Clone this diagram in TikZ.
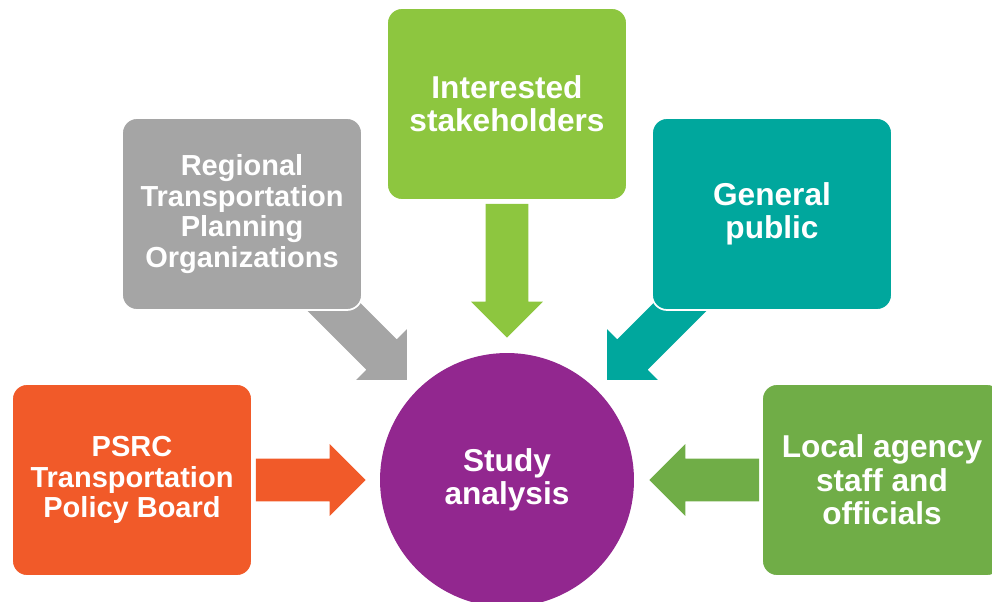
\documentclass[tikz,border=0pt]{standalone}
\usepackage{fontspec}
\setmainfont{Liberation Sans}
\usetikzlibrary{calc,backgrounds}
\definecolor{rpogray}{HTML}{A5A5A5}
\definecolor{stakegreen}{HTML}{8DC63F}
\definecolor{pubteal}{HTML}{00A79D}
\definecolor{psrcorange}{HTML}{F15A29}
\definecolor{localgreen}{HTML}{70AD47}
\definecolor{studypurple}{HTML}{92278F}
\newcommand{\blockarrow}[3]{%
    \path #2 coordinate (ta) #3 coordinate (tb);
    \path ($(tb)!0.72cm!(ta)$) coordinate (tc);
    \fill[#1] ($(ta)!0.43cm!90:(tb)$) -- ($(tc)!0.43cm!-90:(ta)$) -- ($(tc)!0.72cm!-90:(ta)$)
        -- (tb) -- ($(tc)!0.72cm!90:(ta)$) -- ($(tc)!0.43cm!90:(ta)$) -- ($(ta)!0.43cm!-90:(tb)$) -- cycle;}
\begin{document}
\begin{tikzpicture}[x=0.02cm,y=-0.02cm,
        box/.style={rectangle,rounded corners=0.3cm,draw=white,line width=1pt,
            minimum width=4.8cm,minimum height=3.84cm,text=white,align=center,
            font=\bfseries\fontsize{18}{19}\selectfont},
        smalltext/.style={font=\bfseries\fontsize{16.5}{17.5}\selectfont}]
        \clip (0,0) rectangle (992,602);
        \node[box,fill=rpogray,smalltext] (rpo) at (242,214) {Regional\\Transportation\\Planning\\Organizations};
        \node[box,fill=stakegreen] (stake) at (507,104) {Interested\\stakeholders};
        \node[box,fill=pubteal] (pub) at (772,214) {General\\public};
        \node[box,fill=psrcorange,smalltext] (psrc) at (132,480) {PSRC\\Transportation\\Policy Board};
        \node[box,fill=localgreen] (local) at (882,480) {Local agency\\staff and\\officials};
        \node[circle,fill=studypurple,minimum size=5.08cm,text=white,align=center,
            font=\bfseries\fontsize{18}{19}\selectfont] (study) at (507,480) {Study\\analysis};
        \begin{pgfonlayer}{background}
            \blockarrow{rpogray}{($(rpo.south east)+(-52,-27)$)}{($(study.135)+(-10,-10)$)}
            \blockarrow{stakegreen}{($(stake.south)+(0,3)$)}{($(study.north)+(0,-15)$)}
            \blockarrow{pubteal}{($(pub.south west)+(52,-27)$)}{($(study.45)+(10,-10)$)}
            \blockarrow{psrcorange}{($(psrc.east)+(3,0)$)}{($(study.west)+(-14,0)$)}
            \blockarrow{localgreen}{($(local.west)+(-2,0)$)}{($(study.east)+(15,0)$)}
        \end{pgfonlayer}
    \end{tikzpicture}
\end{document}
